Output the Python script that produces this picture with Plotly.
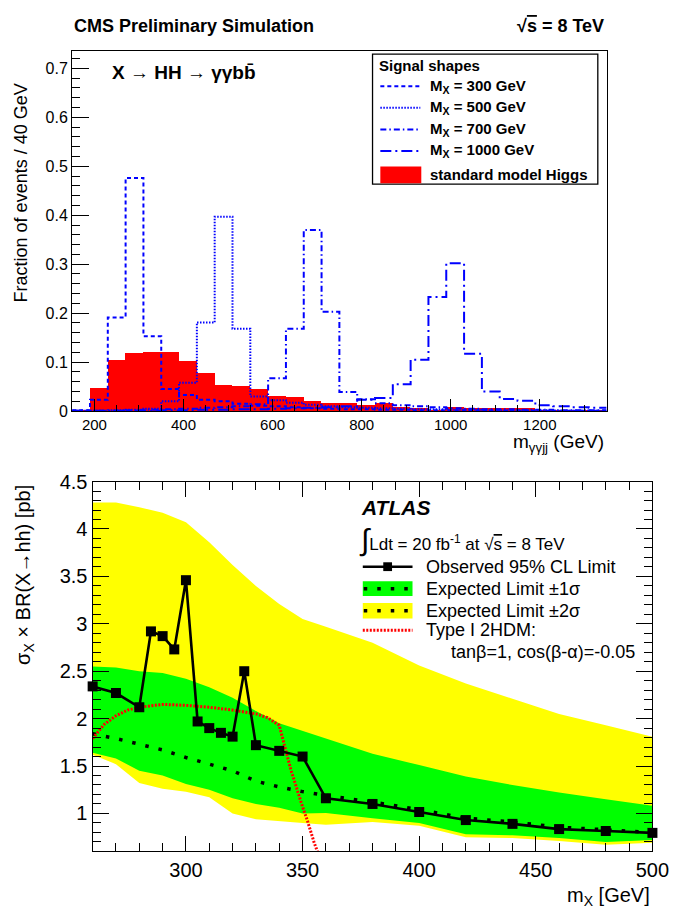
import plotly.graph_objects as go

# ---------------- top panel: signal shapes (40 GeV bins, 150-1350 GeV) ----------------
bin_edges = [150 + 40 * i for i in range(31)]
bin_centers = [e + 20 for e in bin_edges[:-1]]

sm_higgs = [0.002, 0.047, 0.105, 0.118, 0.120, 0.121, 0.103, 0.077, 0.053, 0.051,
            0.044, 0.030, 0.028, 0.021, 0.017, 0.016, 0.012, 0.017, 0.008, 0.007,
            0.002, 0.008, 0.007, 0.006, 0.007, 0.006, 0.001, 0.001, 0.002, 0.003]
sig_300 = [0.002, 0.023, 0.191, 0.476, 0.153, 0.045, 0.033, 0.023, 0.020, 0.015,
           0.011, 0.010, 0.008, 0.006, 0.005, 0.004, 0.004, 0.003, 0.003, 0.002,
           0.002, 0.002, 0.002, 0.001, 0.001, 0.001, 0.001, 0.001, 0.001, 0.001]
sig_500 = [0.001, 0.001, 0.002, 0.003, 0.005, 0.020, 0.058, 0.181, 0.397, 0.168,
           0.030, 0.022, 0.017, 0.013, 0.010, 0.008, 0.007, 0.006, 0.005, 0.004,
           0.004, 0.003, 0.003, 0.002, 0.002, 0.002, 0.002, 0.001, 0.001, 0.001]
sig_700 = [0.001, 0.001, 0.001, 0.002, 0.003, 0.004, 0.005, 0.007, 0.008, 0.010,
           0.014, 0.067, 0.168, 0.370, 0.203, 0.039, 0.024, 0.016, 0.012, 0.010,
           0.008, 0.006, 0.005, 0.004, 0.004, 0.003, 0.003, 0.002, 0.002, 0.002]
sig_1000 = [0.001, 0.001, 0.001, 0.001, 0.001, 0.002, 0.002, 0.003, 0.003, 0.004,
            0.004, 0.005, 0.006, 0.007, 0.008, 0.010, 0.023, 0.027, 0.055, 0.105,
            0.233, 0.302, 0.117, 0.040, 0.025, 0.021, 0.012, 0.010, 0.008, 0.007]

signal_labels = ["M<sub>X</sub> = 300 GeV", "M<sub>X</sub> = 500 GeV",
                 "M<sub>X</sub> = 700 GeV", "M<sub>X</sub> = 1000 GeV"]
signal_dashes = ["4px,3px", "1.5px,1.5px", "6px,3px,1.5px,3px", "11px,4px,2px,4px"]

# ---------------- bottom panel: limits on sigma x BR(X->hh) ----------------
obs_mass = [260, 270, 280, 285, 290, 295, 300, 305, 310, 315, 320, 325, 330, 340,
            350, 360, 380, 400, 420, 440, 460, 480, 500]
obs_limit = [2.34, 2.27, 2.12, 2.92, 2.87, 2.73, 3.46, 1.97, 1.90, 1.85, 1.81, 2.50,
             1.72, 1.66, 1.60, 1.16, 1.10, 1.015, 0.93, 0.89, 0.835, 0.815, 0.795]

exp_mass = [260, 270, 280, 290, 300, 310, 320, 330, 340, 350, 360, 380, 400, 420,
            440, 460, 480, 500]
exp_limit = [1.84, 1.79, 1.73, 1.67, 1.59, 1.52, 1.45, 1.34, 1.28, 1.23, 1.19, 1.12,
             1.04, 0.95, 0.91, 0.855, 0.83, 0.80]
exp_p1 = [2.55, 2.54, 2.50, 2.48, 2.42, 2.33, 2.22, 2.08, 1.95, 1.87, 1.79, 1.63,
          1.51, 1.39, 1.30, 1.22, 1.15, 1.08]
exp_m1 = [1.64, 1.58, 1.45, 1.40, 1.31, 1.25, 1.16, 1.10, 1.06, 1.00, 1.005, 0.95,
          0.90, 0.78, 0.77, 0.74, 0.70, 0.72]
exp_p2 = [4.28, 4.28, 4.23, 4.17, 4.07, 3.86, 3.62, 3.40, 3.21, 3.05, 2.97, 2.80,
          2.56, 2.37, 2.21, 2.05, 1.93, 1.81]
exp_m2 = [1.62, 1.52, 1.32, 1.26, 1.23, 1.17, 1.00, 0.94, 0.92, 0.90, 0.88, 0.91,
          0.87, 0.75, 0.74, 0.71, 0.67, 0.69]

thdm_mass = [260, 265, 270, 275, 280, 290, 300, 310, 320, 330, 335, 340, 342, 345,
             350, 352, 355, 356.5]
thdm_xsec = [1.79, 1.94, 2.03, 2.09, 2.12, 2.15, 2.14, 2.12, 2.09, 2.05, 2.01, 1.93,
             1.74, 1.46, 1.07, 0.93, 0.69, 0.59]

W, H = 686, 922
FONT = "Liberation Sans, Arial, Helvetica, sans-serif"
BLUE = "#0000ff"


def px(x):
    return x / W


def py(y):
    return 1 - y / H


fig = go.Figure()

# SM Higgs filled histogram
fig.add_trace(go.Bar(x=bin_centers, y=sm_higgs, width=40,
                     marker=dict(color="#ff0000", line_width=0),
                     xaxis="x", yaxis="y", showlegend=False, hoverinfo="skip"))

# signal shape outlines
for vals, dash in zip([sig_300, sig_500, sig_700, sig_1000], signal_dashes):
    fig.add_trace(go.Scatter(x=bin_edges, y=vals + [vals[-1]], mode="lines",
                             line=dict(color=BLUE, width=2, dash=dash, shape="hv"),
                             xaxis="x", yaxis="y", showlegend=False))

# +-2 sigma and +-1 sigma bands
fig.add_trace(go.Scatter(x=exp_mass + exp_mass[::-1], y=exp_p2 + exp_m2[::-1],
                         fill="toself", fillcolor="#ffff00", mode="lines",
                         line=dict(width=0, color="#ffff00"),
                         xaxis="x2", yaxis="y2", showlegend=False))
fig.add_trace(go.Scatter(x=exp_mass + exp_mass[::-1], y=exp_p1 + exp_m1[::-1],
                         fill="toself", fillcolor="#00ff00", mode="lines",
                         line=dict(width=0, color="#00ff00"),
                         xaxis="x2", yaxis="y2", showlegend=False))
# expected limit
fig.add_trace(go.Scatter(x=exp_mass, y=exp_limit, mode="lines",
                         line=dict(color="black", width=3.5, dash="3.5px,10px"),
                         xaxis="x2", yaxis="y2", showlegend=False))
# 2HDM prediction
fig.add_trace(go.Scatter(x=thdm_mass, y=thdm_xsec, mode="lines",
                         line=dict(color="#ff0000", width=3, dash="2px,1.5px"),
                         xaxis="x2", yaxis="y2", showlegend=False))
# observed limit
fig.add_trace(go.Scatter(x=obs_mass, y=obs_limit, mode="lines+markers",
                         line=dict(color="black", width=2.6),
                         marker=dict(symbol="square", size=10, color="black"),
                         cliponaxis=False,
                         xaxis="x2", yaxis="y2", showlegend=False))

axis_common = dict(showline=True, linecolor="black", linewidth=1.3, showgrid=False,
                   zeroline=False, ticks="inside", tickcolor="black", tickwidth=1.3,
                   color="black")

annotations = []
shapes = []


def text(x, y, s, size, xanchor="left", bold=False, italic=False, angle=0):
    if bold:
        s = "<b>" + s + "</b>"
    if italic:
        s = "<i>" + s + "</i>"
    annotations.append(dict(x=px(x), y=py(y), xref="paper", yref="paper", text=s,
                            showarrow=False, xanchor=xanchor, yanchor="middle",
                            textangle=angle, font=dict(family=FONT, size=size, color="black")))


# ---- top panel texts ----
text(74, 15, "CMS Preliminary Simulation", 18, bold=True)
text(621, 15, "√<span style='text-decoration:overline'>s</span> = 8 TeV", 18,
     xanchor="right", bold=True)
text(113, 63, "X → HH → γγbb\u0304", 19, bold=True)
text(621, 442, "m<sub>γγjj</sub> (GeV)", 19, xanchor="right")
annotations.append(dict(x=px(22), y=py(186), xref="paper", yref="paper",
                        text="Fraction of events / 40 GeV", showarrow=False,
                        textangle=-90, xanchor="center", yanchor="middle",
                        font=dict(family=FONT, size=18, color="black")))

# top legend box
shapes.append(dict(type="rect", xref="paper", yref="paper", x0=px(382), x1=px(613),
                   y0=py(177), y1=py(44), line=dict(color="black", width=1.3),
                   fillcolor="white", layer="above"))
text(387, 56, "Signal shapes", 15, bold=True)
legend_rows = [77, 99, 121, 143]
for yy, lab, dash in zip(legend_rows, signal_labels, signal_dashes):
    shapes.append(dict(type="line", xref="paper", yref="paper", x0=px(390), x1=px(431),
                       y0=py(yy), y1=py(yy), line=dict(color=BLUE, width=2, dash=dash),
                       layer="above"))
    text(439, yy, lab, 15, bold=True)
shapes.append(dict(type="rect", xref="paper", yref="paper", x0=px(390), x1=px(432),
                   y0=py(176), y1=py(159), line=dict(width=0), fillcolor="#ff0000",
                   layer="above"))
text(439, 167, "standard model Higgs", 15, bold=True)

# ---- bottom panel texts ----
text(669, 905, "m<sub>X</sub> [GeV]", 20, xanchor="right")
annotations.append(dict(x=px(25), y=py(576), xref="paper", yref="paper",
                        text="σ<sub>X</sub> × BR(X→hh) [pb]", showarrow=False,
                        textangle=-90, xanchor="center", yanchor="middle",
                        font=dict(family=FONT, size=20, color="black")))
text(368, 507, "ATLAS", 21, bold=True, italic=True)
text(366, 541, "<span style='font-size:30px'>∫</span>Ldt = 20 fb<sup>-1</sup> at "
               "√<span style='text-decoration:overline'>s</span> = 8 TeV", 17)

# bottom legend
shapes.append(dict(type="line", xref="paper", yref="paper", x0=px(372), x1=px(423),
                   y0=py(568), y1=py(568), line=dict(color="black", width=2.6), layer="above"))
shapes.append(dict(type="rect", xref="paper", yref="paper", x0=px(393), x1=px(402),
                   y0=py(572.5), y1=py(563.5), line=dict(width=0), fillcolor="black",
                   layer="above"))
text(435, 568, "Observed 95% CL Limit", 18)
for y0, y1, col, lab in [(583, 598, "#00ff00", "Expected Limit ±1σ"),
                         (605, 621, "#ffff00", "Expected Limit ±2σ")]:
    shapes.append(dict(type="rect", xref="paper", yref="paper", x0=px(372), x1=px(423),
                       y0=py(y1), y1=py(y0), line=dict(width=0), fillcolor=col,
                       layer="above"))
    ym = (y0 + y1) / 2
    shapes.append(dict(type="line", xref="paper", yref="paper", x0=px(373), x1=px(423),
                       y0=py(ym), y1=py(ym),
                       line=dict(color="black", width=3.5, dash="3.5px,10px"), layer="above"))
    text(435, ym, lab, 18)
shapes.append(dict(type="line", xref="paper", yref="paper", x0=px(372), x1=px(423),
                   y0=py(633), y1=py(633),
                   line=dict(color="#ff0000", width=3, dash="2px,1.5px"), layer="above"))
text(435, 633, "Type I 2HDM:", 18)
text(460, 655, "tanβ=1, cos(β-α)=-0.05", 18)

fig.update_layout(
    width=W, height=H, autosize=False,
    margin=dict(l=0, r=0, t=0, b=0),
    paper_bgcolor="white", plot_bgcolor="rgba(0,0,0,0)",
    bargap=0, showlegend=False,
    font=dict(family=FONT, color="black"),
    xaxis=dict(domain=[px(74), px(622)], range=[150, 1350], anchor="y",
               tick0=0, dtick=200, ticklen=12, mirror=True,
               tickfont=dict(size=15, family=FONT),
               minor=dict(dtick=50, tick0=0, ticklen=6, ticks="inside",
                          tickcolor="black", tickwidth=1.3, showgrid=False),
               **axis_common),
    yaxis=dict(domain=[py(409), py(41)], range=[0, 0.735], anchor="x",
               tick0=0, dtick=0.1, ticklen=17, mirror=True,
               tickfont=dict(size=16, family=FONT),
               minor=dict(dtick=0.02, tick0=0, ticklen=8, ticks="inside",
                          tickcolor="black", tickwidth=1.3, showgrid=False),
               **axis_common),
    xaxis2=dict(domain=[px(95), px(669)], range=[260, 500], anchor="y2",
                tick0=0, dtick=50, ticklen=15, mirror="ticks",
                tickfont=dict(size=20, family=FONT),
                minor=dict(dtick=10, tick0=0, ticklen=8, ticks="inside",
                           tickcolor="black", tickwidth=1.3, showgrid=False),
                **axis_common),
    yaxis2=dict(domain=[py(859), py(481)], range=[0.6, 4.5001], anchor="x2",
                tick0=0, dtick=0.5, ticklen=16, mirror="ticks",
                tickfont=dict(size=20, family=FONT),
                minor=dict(dtick=0.1, tick0=0, ticklen=8, ticks="inside",
                           tickcolor="black", tickwidth=1.3, showgrid=False),
                **axis_common),
    annotations=annotations,
    shapes=shapes,
)

fig.write_html("out.html")
